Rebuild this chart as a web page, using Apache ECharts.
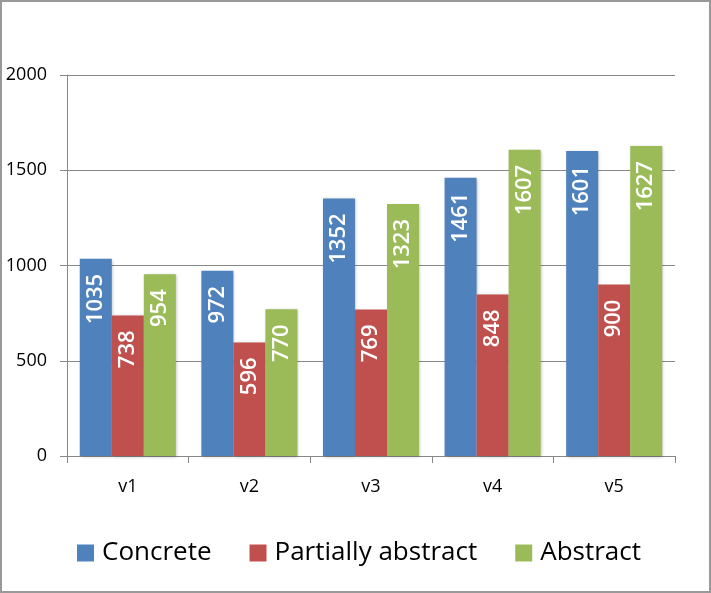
<!DOCTYPE html>
<html>
<head>
<meta charset="utf-8">
<script src="https://cdn.jsdelivr.net/npm/echarts@6/dist/echarts.min.js"></script>
<style>
html,body{margin:0;padding:0;background:#fff;}
#c{width:711px;height:593px;}
</style>
</head>
<body>
<div id="c"></div>
<script>
var categories = ['v1', 'v2', 'v3', 'v4', 'v5'];
var concrete = [1035, 972, 1352, 1461, 1601];
var partiallyAbstract = [738, 596, 769, 848, 900];
var abstractVals = [954, 770, 1323, 1607, 1627];
var seriesNames = ['Concrete', 'Partially abstract', 'Abstract'];
var colors = ['#4F81BD', '#C0504D', '#9BBB59'];

var FONT = '"Open Sans", "Noto Sans", sans-serif';
var chart = echarts.init(document.getElementById('c'));

function mk(name, data, color) {
  return {
    name: name,
    type: 'bar',
    data: data,
    barGap: '0%',
    barCategoryGap: '21%',
    itemStyle: { color: color, shadowColor: 'rgba(0,0,0,0.25)', shadowBlur: 3, shadowOffsetX: 1, shadowOffsetY: 1 },
    label: {
      show: true,
      position: 'insideTop',
      rotate: 90,
      align: 'right',
      verticalAlign: 'middle',
      distance: 15,
      color: '#fff',
      fontWeight: 600,
      fontSize: 22,
      fontFamily: FONT
    }
  };
}

chart.setOption({
  animation: false,
  backgroundColor: '#fff',
  textStyle: { fontFamily: FONT },
  color: colors,
  grid: { left: 67, right: 36, top: 75, bottom: 137, containLabel: false },
  legend: {
    data: seriesNames,
    left: 72,
    top: 535,
    icon: 'rect',
    itemWidth: 17,
    itemHeight: 17,
    itemGap: 38,
    textStyle: { fontSize: 26, color: '#000', fontFamily: FONT, padding: [0, 0, 0, 3] }
  },
  xAxis: {
    type: 'category',
    data: categories,
    axisLine: { lineStyle: { color: '#888', width: 1 } },
    axisTick: { show: true, length: 7, alignWithLabel: false, lineStyle: { color: '#888' } },
    axisLabel: { color: '#000', fontSize: 18, margin: 22, fontFamily: FONT }
  },
  yAxis: {
    type: 'value',
    min: 0,
    max: 2000,
    interval: 500,
    axisLine: { show: true, lineStyle: { color: '#888', width: 1 } },
    axisTick: { show: true, length: 7, lineStyle: { color: '#888' } },
    axisLabel: { color: '#000', fontSize: 18, margin: 20, fontFamily: FONT, formatter: function (v) { return String(v); } },
    splitLine: { lineStyle: { color: '#888', width: 1 } }
  },
  graphic: [{
    type: 'rect',
    shape: { x: 1, y: 1, width: 709, height: 591 },
    style: { fill: 'none', stroke: '#999', lineWidth: 2 },
    silent: true
  }],
  series: [
    mk(seriesNames[0], concrete, colors[0]),
    mk(seriesNames[1], partiallyAbstract, colors[1]),
    mk(seriesNames[2], abstractVals, colors[2])
  ]
});
</script>
</body>
</html>
